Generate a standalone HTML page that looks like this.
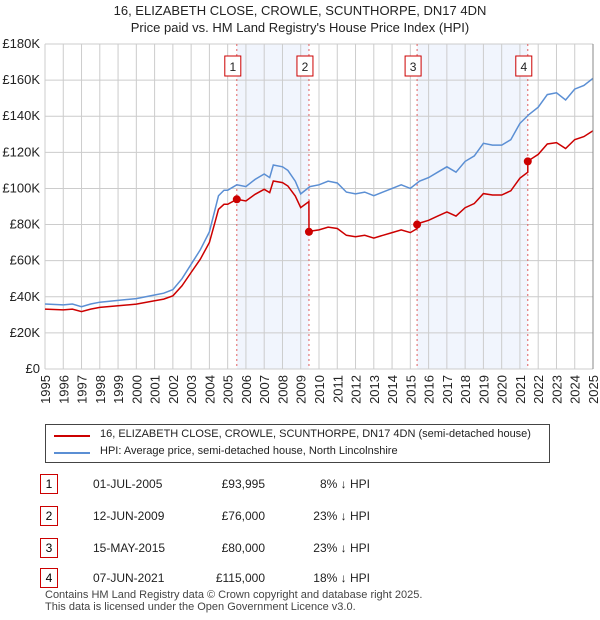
<!DOCTYPE html>
<html><head><meta charset="utf-8">
<style>
body{margin:0;background:#fff;font-family:"Liberation Sans","DejaVu Sans",sans-serif;}
#wrap{position:relative;width:600px;height:620px;overflow:hidden;}
.t{position:absolute;font-size:12px;color:#222;white-space:nowrap;}
.nb{position:absolute;width:16px;height:18px;border:1px solid #c00;font-size:12px;text-align:center;line-height:18px;background:#fff;}
</style></head>
<body><div id="wrap">
<div class="t" style="left:0;width:600px;text-align:center;top:3px;font-size:13px;">16, ELIZABETH CLOSE, CROWLE, SCUNTHORPE, DN17 4DN</div>
<div class="t" style="left:0;width:600px;text-align:center;top:20px;font-size:13px;">Price paid vs. HM Land Registry's House Price Index (HPI)</div>
<svg id="chart" width="600" height="420" style="position:absolute;left:0;top:0"></svg>
<div style="position:absolute;left:45px;top:424px;width:503px;height:37px;border:1px solid #444;">
 <div style="position:absolute;left:8px;top:10px;width:36px;height:2px;background:#c00"></div>
 <div class="t" style="left:54px;top:3px;font-size:11px;">16, ELIZABETH CLOSE, CROWLE, SCUNTHORPE, DN17 4DN (semi-detached house)</div>
 <div style="position:absolute;left:8px;top:27px;width:36px;height:2px;background:#5b8fd4"></div>
 <div class="t" style="left:54px;top:20px;font-size:11px;">HPI: Average price, semi-detached house, North Lincolnshire</div>
</div>
<div id="table"></div>
<div class="t" style="left:45px;top:589px;font-size:11px;color:#444;line-height:12px;">Contains HM Land Registry data © Crown copyright and database right 2025.<br>This data is licensed under the Open Government Licence v3.0.</div>
</div>
<script>
const hpiYears=[1995,1996,1996.5,1997,1997.5,1998,1999,2000,2001,2001.5,2002,2002.5,2003,2003.5,2004,2004.3,2004.5,2004.8,2005,2005.5,2006,2006.5,2007,2007.3,2007.5,2008,2008.3,2008.7,2009,2009.5,2010,2010.5,2011,2011.5,2012,2012.5,2013,2013.5,2014,2014.5,2015,2015.5,2016,2016.5,2017,2017.5,2018,2018.5,2019,2019.5,2020,2020.5,2021,2021.5,2022,2022.5,2023,2023.5,2024,2024.5,2025];
const hpiValues=[36,35.5,36,34.5,36,37,38,39,41,42,44,50,58,66,76,88,96,99,99,102,101,105,108,106,113,112,110,104,97,101,102,104,103,98,97,98,96,98,100,102,100,104,106,109,112,109,115,118,125,124,124,127,136,141,145,152,153,149,155,157,161];
const saleYears=[2005.5,2009.45,2015.37,2021.43];
const salePrices=[93.995,76,80,115];
const saleDates=["01-JUL-2005","12-JUN-2009","15-MAY-2015","07-JUN-2021"];
const saleLabels=["£93,995","£76,000","£80,000","£115,000"];
const saleDiff=["8% ↓ HPI","23% ↓ HPI","23% ↓ HPI","18% ↓ HPI"];
const yTicks=[0,20,40,60,80,100,120,140,160,180];
const xTicks=[1995,1996,1997,1998,1999,2000,2001,2002,2003,2004,2005,2006,2007,2008,2009,2010,2011,2012,2013,2014,2015,2016,2017,2018,2019,2020,2021,2022,2023,2024,2025];
const X0=45,X1=593,Y0=369,Y1=44;
const sx=y=>X0+(y-1995)/30*(X1-X0);
const sy=v=>Y0-v/180*(Y0-Y1);
const svg=document.getElementById('chart');const NS='http://www.w3.org/2000/svg';
function mk(t,a){const e=document.createElementNS(NS,t);for(const k in a)e.setAttribute(k,a[k]);svg.appendChild(e);return e;}
function hpiAt(y){for(let i=1;i<hpiYears.length;i++){if(y<=hpiYears[i]){const f=(y-hpiYears[i-1])/(hpiYears[i]-hpiYears[i-1]);return hpiValues[i-1]+f*(hpiValues[i]-hpiValues[i-1]);}}return hpiValues[hpiValues.length-1];}
for(let i=0;i<saleYears.length;i+=2){const r=mk('rect',{x:sx(saleYears[i]),y:Y1,width:sx(saleYears[i+1])-sx(saleYears[i]),height:Y0-Y1,fill:'#eef3fc',opacity:0.8});
}
yTicks.forEach(v=>{const l=mk('line',{x1:X0,x2:X1,y1:sy(v),y2:sy(v),stroke:'#ccc','stroke-width':1});
const t=mk('text',{x:40,y:sy(v)+4,'text-anchor':'end','font-size':13,fill:'#222'});t.textContent=v===0?'£0':'£'+v+'K';});
xTicks.forEach(y=>{const l=mk('line',{x1:sx(y),x2:sx(y),y1:Y1,y2:Y0,stroke:'#ccc','stroke-width':1});
const t=mk('text',{x:0,y:0,'text-anchor':'end','font-size':13,fill:'#222',transform:'translate('+(sx(y)+5)+',375) rotate(-90)'});t.textContent=y;});
saleYears.forEach((y,i)=>{const l=mk('line',{x1:sx(y),x2:sx(y),y1:Y1,y2:Y0,stroke:'#e06060','stroke-width':1,'stroke-dasharray':'2,3'});
const r=mk('rect',{x:sx(y)-12,y:56,width:16,height:20,fill:'#fff',stroke:'#c00'});
const t=mk('text',{x:sx(y)-4,y:71,'text-anchor':'middle','font-size':12,fill:'#222'});t.textContent=i+1;});
let hp='';hpiYears.forEach((y,i)=>hp+=(i?'L':'M')+sx(y).toFixed(1)+','+sy(hpiValues[i]).toFixed(1));
const hl=mk('path',{d:hp,fill:'none',stroke:'#5b8fd4','stroke-width':1.5});
function ratioAt(y){let k=0;for(let i=0;i<saleYears.length;i++)if(y>=saleYears[i])k=i;return salePrices[k]/hpiAt(saleYears[k]);}
const pts=[...hpiYears];saleYears.forEach(s=>{pts.push(s-0.001);pts.push(s);});pts.sort((a,b)=>a-b);
let rp='';pts.forEach((y,i)=>rp+=(i?'L':'M')+sx(y).toFixed(1)+','+sy(hpiAt(y)*ratioAt(y)).toFixed(1));
const rl=mk('path',{d:rp,fill:'none',stroke:'#c00','stroke-width':1.5});
saleYears.forEach((y,i)=>{const c=mk('circle',{cx:sx(y),cy:sy(salePrices[i]),r:4,fill:'#c00'});});
mk('line',{x1:X1,x2:X1,y1:Y1,y2:Y0,stroke:'#888'});
const tb=document.getElementById('table');const rowsY=[474,506,538,568];
saleDates.forEach((d,i)=>{const row=document.createElement('div');row.style.cssText='position:absolute;left:0;top:'+rowsY[i]+'px;width:600px;height:20px;';


row.innerHTML='<div class="nb" style="left:40px;top:0">'+(i+1)+'</div><div class="t" style="left:93px;top:3px">'+d+'</div><div class="t" style="left:190px;width:75px;text-align:right;top:3px">'+saleLabels[i]+'</div><div class="t" style="left:290px;width:80px;text-align:right;top:3px">'+saleDiff[i]+'</div>';
tb.appendChild(row);});
</script>
</body></html>
